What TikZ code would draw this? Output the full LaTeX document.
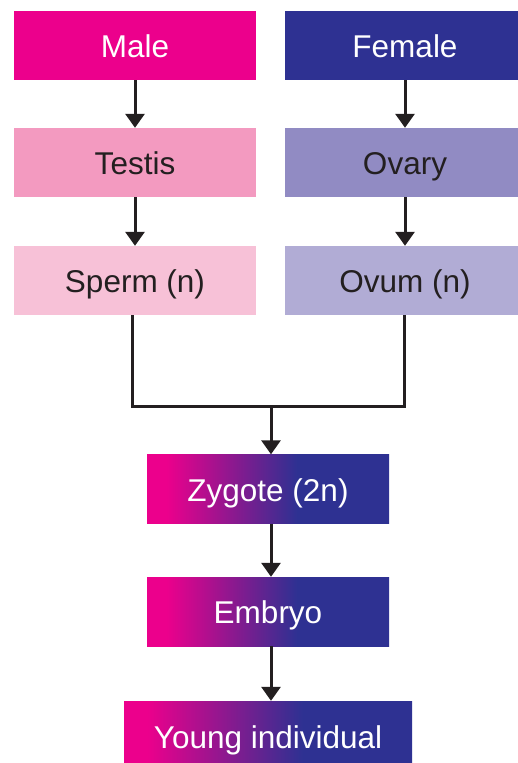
\documentclass[tikz,border=0pt]{standalone}
\usepackage{fontspec}
\setmainfont{Liberation Sans}
\usetikzlibrary{arrows.meta}
\definecolor{mag}{HTML}{EC008C}
\definecolor{fblue}{HTML}{2E3192}
\definecolor{testisc}{HTML}{F39AC0}
\definecolor{spermc}{HTML}{F7C1D7}
\definecolor{ovaryc}{HTML}{918BC3}
\definecolor{ovumc}{HTML}{B1ACD5}
\definecolor{txt}{HTML}{231F20}
\pgfdeclarehorizontalshading{mfgrad}{100bp}{color(0bp)=(mag); color(29bp)=(mag); color(56bp)=(fblue); color(100bp)=(fblue)}
\begin{document}
\begin{tikzpicture}[x=1pt,y=1pt,
  box/.style={rectangle, minimum height=69pt, inner sep=0pt, text height=30pt, text depth=6pt, font=\fontsize{31.5}{37}\selectfont, text=txt},
  gbox/.style={box, shade, shading=mfgrad, text=white},
  arr/.style={line width=3pt, draw=txt, -{Triangle[width=19pt,length=14pt]}},
  link/.style={line width=3pt, draw=txt}]
\clip (0,0) rectangle (518,-763);
\fill[white] (0,0) rectangle (518,-763);
\node[box, fill=mag, text=white, minimum width=242pt] (male) at (135,-45.5) {Male};
\node[box, fill=fblue, text=white, minimum width=240pt] (female) at (405,-45.5) {Female};
\node[box, fill=testisc, minimum width=242pt] (testis) at (135,-162.5) {Testis};
\node[box, fill=ovaryc, minimum width=240pt] (ovary) at (405,-162.5) {Ovary};
\node[box, fill=spermc, minimum width=242pt] (sperm) at (135,-280.5) {Sperm (n)};
\node[box, fill=ovumc, minimum width=240pt] (ovum) at (405,-280.5) {Ovum (n)};
\node[gbox, minimum width=242pt] (zygote) at (268,-489) {Zygote (2n)};
\node[gbox, minimum width=242pt] (embryo) at (268,-611.5) {Embryo};
\node[gbox, minimum width=288pt, minimum height=70pt] (young) at (268,-736) {Young individual};
\coordinate (jl) at (132,-406);
\coordinate (jr) at (404.5,-406);
\coordinate (jm) at (271,-406);
\draw[arr] (male) -- (testis);
\draw[arr] (testis) -- (sperm);
\draw[arr] (female) -- (ovary);
\draw[arr] (ovary) -- (ovum);
\draw[link] (sperm.south -| jl) -- (jl) -- (jr) -- (ovum.south -| jr);
\draw[arr] (jm) -- (jm |- zygote.north);
\draw[arr] (zygote.south -| jm) -- (jm |- embryo.north);
\draw[arr] (embryo.south -| jm) -- (jm |- young.north);
\end{tikzpicture}
\end{document}
